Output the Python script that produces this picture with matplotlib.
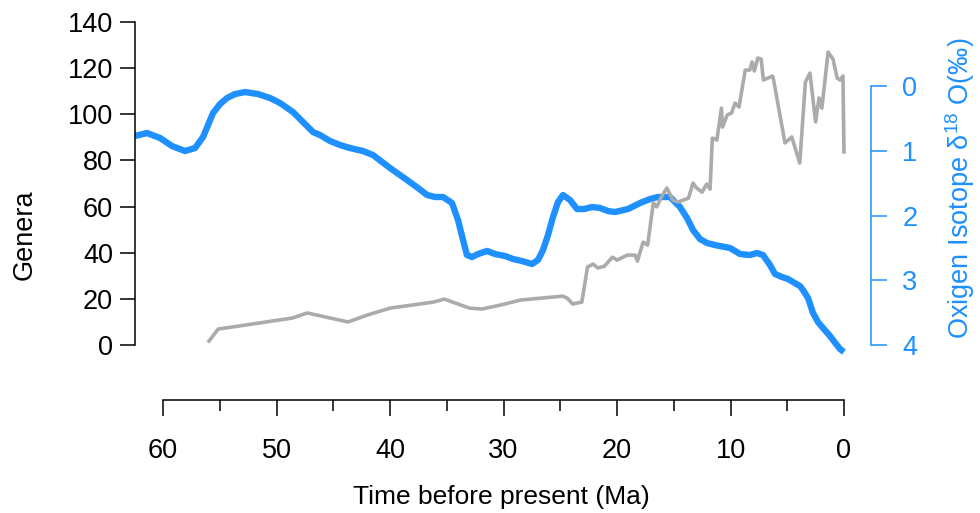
import numpy as np
import matplotlib.pyplot as plt

plt.rcParams['font.family'] = ['Liberation Sans', 'DejaVu Sans']
plt.rcParams['mathtext.fontset'] = 'custom'
plt.rcParams['mathtext.rm'] = 'Liberation Sans'

# number of genera through time (Ma)
age_gen = [55.95, 55.15, 48.6, 47.3, 43.7, 42.0, 40.0, 36.2, 35.2, 33.0, 31.9, 30.3,
           28.5, 24.8, 24.4, 23.9, 23.1, 22.6, 22.1, 21.7, 21.1, 20.4, 20.0, 19.1,
           18.4, 18.2, 17.7, 17.3, 16.8, 16.5, 16.0, 15.6, 15.1, 14.6, 13.7, 13.3,
           13.0, 12.5, 12.1, 11.8, 11.6, 11.2, 10.8, 10.7, 10.3, 9.9, 9.6, 9.25,
           8.7, 8.3, 8.1, 7.9, 7.6, 7.3, 7.1, 6.3, 6.25, 5.2, 4.6, 3.9,
           3.4, 3.0, 2.5, 2.2, 1.95, 1.4, 0.97, 0.6, 0.35, 0.09, 0.0]
genera = [1.7, 6.9, 11.7, 13.9, 10.0, 13.0, 16.0, 18.6, 19.9, 16.0, 15.6, 17.3,
          19.5, 21.2, 20.4, 17.8, 18.6, 33.8, 35.1, 33.4, 34.2, 38.1, 36.8, 39.0,
          39.0, 36.4, 44.6, 43.3, 61.6, 59.9, 65.0, 68.1, 62.9, 62.0, 63.7, 70.2,
          68.1, 66.3, 69.8, 67.6, 89.7, 88.9, 102.7, 94.5, 99.7, 100.6, 104.9, 103.2,
          119.2, 119.2, 122.7, 118.8, 124.4, 124.0, 114.9, 116.6, 116.2, 87.6, 90.2, 78.9,
          114.0, 117.9, 96.7, 107.1, 102.7, 127.0, 124.0, 115.7, 114.9, 116.6, 83.7]

# oxygen isotope curve (d18O, per mil)
age_iso = [62.47, 61.41, 60.26, 59.21, 58.06, 57.18, 56.48, 55.59, 54.98, 54.36,
           53.66, 52.78, 51.63, 50.57, 49.69, 48.55, 47.49, 46.79, 46.17, 45.29,
           44.41, 43.52, 42.38, 41.50, 40.00, 38.50, 37.53, 36.74, 36.04, 35.33,
           34.54, 34.01, 33.57, 33.22, 32.78, 32.25, 31.45, 30.75, 29.87, 29.16,
           28.37, 27.49, 26.96, 26.52, 26.08, 25.64, 25.20, 24.76, 24.14, 23.52,
           22.91, 22.20, 21.50, 20.79, 20.18, 19.03, 17.97, 17.09, 16.39, 15.33,
           14.45, 13.83, 13.30, 12.69, 12.07, 11.37, 10.93, 10.04, 9.16, 8.28,
           7.67, 7.14, 6.52, 6.08, 5.46, 4.93, 4.49, 3.88, 3.61, 3.17,
           2.73, 2.29, 1.85, 1.23, 0.70, 0.35, 0.00]
d18o = [0.772, 0.726, 0.803, 0.927, 1.004, 0.958, 0.788, 0.417, 0.278, 0.185,
        0.124, 0.093, 0.124, 0.185, 0.263, 0.402, 0.587, 0.710, 0.757, 0.849,
        0.911, 0.958, 1.004, 1.066, 1.266, 1.452, 1.575, 1.683, 1.714, 1.714,
        1.807, 2.069, 2.378, 2.610, 2.641, 2.595, 2.548, 2.595, 2.625, 2.672,
        2.703, 2.749, 2.687, 2.533, 2.301, 2.023, 1.792, 1.683, 1.761, 1.900,
        1.900, 1.869, 1.884, 1.931, 1.946, 1.900, 1.807, 1.745, 1.714, 1.714,
        1.869, 2.039, 2.224, 2.363, 2.425, 2.456, 2.471, 2.502, 2.595, 2.610,
        2.579, 2.610, 2.764, 2.903, 2.950, 2.981, 3.027, 3.089, 3.151, 3.274,
        3.506, 3.645, 3.738, 3.861, 3.985, 4.062, 4.108]

blue = '#1E90FF'
gray = '#ABABAB'
fs = 19.5

fig = plt.figure(figsize=(9.8, 5.13), dpi=100)
ax = fig.add_axes([0.13776, 0.2982, 0.75102, 0.6920])
ax2 = ax.twinx()
ax.set_zorder(ax2.get_zorder() + 1)
ax.patch.set_visible(False)

ax2.plot(age_iso, d18o, color=blue, lw=4.6, solid_capstyle='butt',
         solid_joinstyle='round')
ax.plot(age_gen, genera, color=gray, lw=2.6, solid_joinstyle='round')

ax.set_xlim(62.47, -2.38)
ax.set_ylim(-6.5, 147.4)
ax2.set_ylim(4.232, -1.251)

# left axis
for s in ['top', 'right']:
    ax.spines[s].set_visible(False)
ax.spines['left'].set_bounds(0, 140)
ax.spines['left'].set_linewidth(1.1)
ax.set_yticks(range(0, 141, 20))
ax.tick_params(axis='y', length=10.8, width=1.1, pad=5, labelsize=fs)

# bottom axis, pushed down
ax.spines['bottom'].set_position(('outward', 28.8))
ax.spines['bottom'].set_bounds(0, 60)
ax.spines['bottom'].set_linewidth(1.1)
ax.set_xticks(range(0, 61, 10))
ax.set_xticks(range(5, 60, 10), minor=True)
ax.tick_params(axis='x', which='major', length=11.5, width=1.1, pad=16, labelsize=fs)
ax.tick_params(axis='x', which='minor', length=8, width=1.1)

# right axis
for s in ['top', 'left', 'bottom']:
    ax2.spines[s].set_visible(False)
ax2.spines['right'].set_bounds(0, 4)
ax2.spines['right'].set_color(blue)
ax2.spines['right'].set_linewidth(1.1)
ax2.set_yticks(range(0, 5))
ax2.tick_params(axis='y', length=11.5, width=1.1, pad=11, labelsize=fs,
                color=blue, labelcolor=blue)

fig.text(25 / 980, 1 - 235 / 513, 'Genera', rotation=90, fontsize=fs,
         ha='center', va='center')
fig.text(960 / 980, 1 - 188 / 513, 'Oxigen Isotope δ$^{\\mathrm{18}}$ O(‰)',
         rotation=90, fontsize=fs, color=blue, ha='center', va='center')
fig.text(501 / 980, 1 - 497 / 513, 'Time before present (Ma)', fontsize=19,
         ha='center', va='center')

fig.savefig('out.png', dpi=100)
